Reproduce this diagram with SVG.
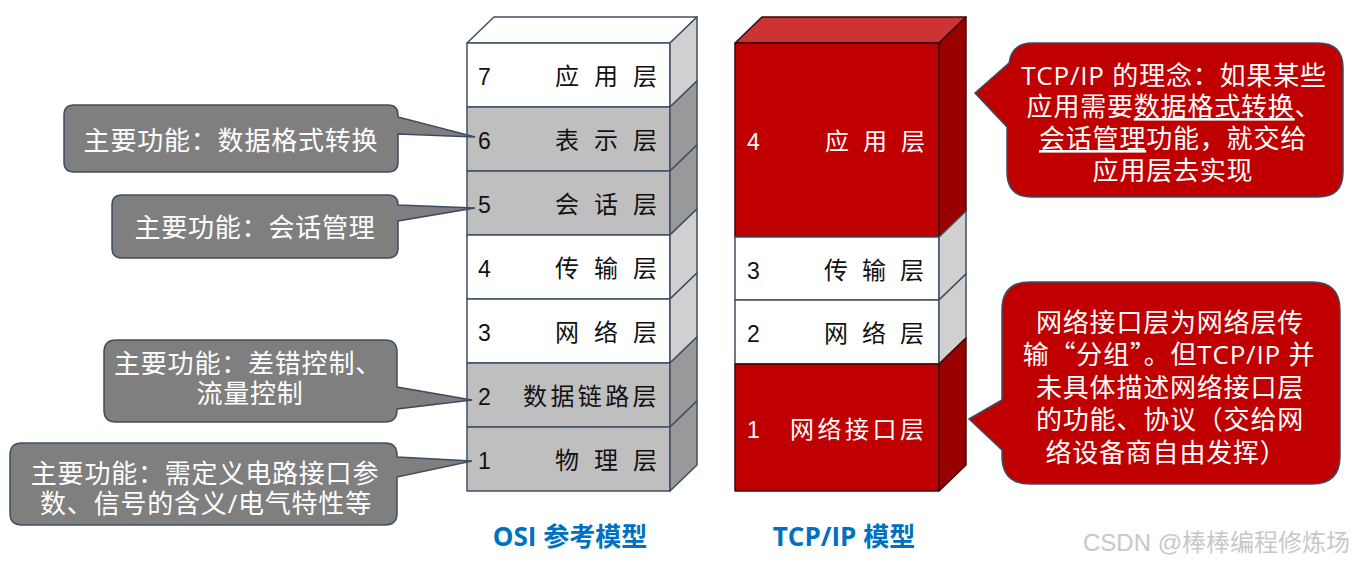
<svg xmlns="http://www.w3.org/2000/svg" width="1357" height="566" viewBox="0 0 1357 566">
<style>
.osi{stroke:#3f4f63;stroke-width:1.5;stroke-linejoin:round}
.red{stroke:#3a0a0a;stroke-width:1.5;stroke-linejoin:round}
.fw{fill:#ffffff}.fg{fill:#bfbfbf}.sl{fill:#d0d0d0}.sd{fill:#999999}
.fr{fill:#c00000}.sr{fill:#990000}.tr{fill:#cc3333}
.num{font-family:"Liberation Sans","Open Sans",sans-serif;font-size:23px}
.lab{font-family:"Noto Sans CJK SC",sans-serif;font-size:24px}
.dk{fill:#111111}.wt{fill:#ffffff}
.cg{fill:#7f7f7f;stroke:#3b4d63;stroke-width:1.5}
.cr{fill:#c00000;stroke:#3b4d63;stroke-width:1.5}
.ct{font-family:"Open Sans","Noto Sans CJK SC",sans-serif;font-size:26px;fill:#ffffff;text-anchor:middle;letter-spacing:0.8px}
.fq{font-family:"Noto Sans CJK SC",sans-serif;font-feature-settings:"fwid"}
.title{font-family:"Open Sans","Noto Sans CJK SC",sans-serif;font-size:26px;font-weight:bold;fill:#0070c0;text-anchor:middle}
</style>
<g id="osi-stack">
  <polygon class="osi fw" points="467,43 494,17 697,17 670,43"/>
  <g id="osi-7"><rect class="osi fw" x="467" y="43" width="203" height="64"/><polygon class="osi sl" points="670,43 697,17 697,81 670,107"/>
    <text class="num dk" x="478" y="85">7</text><text class="lab dk" x="555" y="85" letter-spacing="15">应用层</text></g>
  <g id="osi-6"><rect class="osi fg" x="467" y="107" width="203" height="64"/><polygon class="osi sd" points="670,107 697,81 697,145 670,171"/>
    <text class="num dk" x="478" y="149">6</text><text class="lab dk" x="555" y="149" letter-spacing="15">表示层</text></g>
  <g id="osi-5"><rect class="osi fg" x="467" y="171" width="203" height="64"/><polygon class="osi sd" points="670,171 697,145 697,209 670,235"/>
    <text class="num dk" x="478" y="213">5</text><text class="lab dk" x="555" y="213" letter-spacing="15">会话层</text></g>
  <g id="osi-4"><rect class="osi fw" x="467" y="235" width="203" height="64"/><polygon class="osi sl" points="670,235 697,209 697,273 670,299"/>
    <text class="num dk" x="478" y="277">4</text><text class="lab dk" x="555" y="277" letter-spacing="15">传输层</text></g>
  <g id="osi-3"><rect class="osi fw" x="467" y="299" width="203" height="64"/><polygon class="osi sl" points="670,299 697,273 697,337 670,363"/>
    <text class="num dk" x="478" y="341">3</text><text class="lab dk" x="555" y="341" letter-spacing="15">网络层</text></g>
  <g id="osi-2"><rect class="osi fg" x="467" y="363" width="203" height="64"/><polygon class="osi sd" points="670,363 697,337 697,401 670,427"/>
    <text class="num dk" x="478" y="405">2</text><text class="lab dk" x="523" y="405" letter-spacing="3.4">数据链路层</text></g>
  <g id="osi-1"><rect class="osi fg" x="467" y="427" width="203" height="64"/><polygon class="osi sd" points="670,427 697,401 697,465 670,491"/>
    <text class="num dk" x="478" y="469">1</text><text class="lab dk" x="555" y="469" letter-spacing="15">物理层</text></g>
</g>
<g id="tcp-stack">
  <polygon class="red tr" points="735,43 762,17 966,17 939,43"/>
  <g id="tcp-4"><rect class="red fr" x="735" y="43" width="204" height="194"/><polygon class="red sr" points="939,43 966,17 966,211 939,237"/>
    <text class="num wt" x="747" y="150">4</text><text class="lab wt" x="825" y="150" letter-spacing="14">应用层</text></g>
  <g id="tcp-3"><rect class="osi fw" x="735" y="237" width="204" height="63"/><polygon class="osi sl" points="939,237 966,211 966,274 939,300"/>
    <text class="num dk" x="747" y="279">3</text><text class="lab dk" x="824" y="279" letter-spacing="14">传输层</text></g>
  <g id="tcp-2"><rect class="osi fw" x="735" y="300" width="204" height="64"/><polygon class="osi sl" points="939,300 966,274 966,338 939,364"/>
    <text class="num dk" x="747" y="342">2</text><text class="lab dk" x="824" y="342" letter-spacing="14">网络层</text></g>
  <g id="tcp-1"><rect class="red fr" x="735" y="364" width="204" height="127"/><polygon class="red sr" points="939,364 966,338 966,465 939,491"/>
    <text class="num wt" x="747" y="438">1</text><text class="lab wt" x="790" y="438" letter-spacing="3.5">网络接口层</text></g>
</g>
<g id="callout-6">
  <path class="cg" d="M74,105 H388 Q398,105 398,115 V117 L475,137 L398,134 V162 Q398,172 388,172 H74 Q64,172 64,162 V115 Q64,105 74,105 Z"/>
  <text class="ct" x="231" y="150">主要功能：数据格式转换</text>
</g>
<g id="callout-5">
  <path class="cg" d="M122,195 H388 Q398,195 398,205 L475,208 L398,221 V248 Q398,258 388,258 H122 Q112,258 112,248 V205 Q112,195 122,195 Z"/>
  <text class="ct" x="255" y="237">主要功能：会话管理</text>
</g>
<g id="callout-2">
  <path class="cg" d="M116,340 H385 Q397,340 397,352 V387 L472,400 L397,409 V410 Q397,422 385,422 H116 Q104,422 104,410 V352 Q104,340 116,340 Z"/>
  <text class="ct" x="248" y="373">主要功能：差错控制、</text>
  <text class="ct" x="250" y="403">流量控制</text>
</g>
<g id="callout-1">
  <path class="cg" d="M22,443 H385 Q397,443 397,455 V457 L472,461 L397,477 V513 Q397,525 385,525 H22 Q10,525 10,513 V455 Q10,443 22,443 Z"/>
  <text class="ct" x="205" y="483">主要功能：需定义电路接口参</text>
  <text class="ct" x="206" y="513">数、信号的含义/电气特性等</text>
</g>
<g id="callout-tcp-app">
  <path class="cr" d="M1032,43 H1318 Q1343,43 1343,68 V172 Q1343,197 1318,197 H1032 Q1007,197 1007,172 V127 L975,93 L1009,63 Q1012,43 1032,43 Z"/>
  <text class="ct" x="1174" y="85">TCP/IP 的理念：如果某些</text>
  <text class="ct" x="1174" y="116">应用需要<tspan text-decoration="underline">数据格式转换</tspan>、</text>
  <text class="ct" x="1173" y="148"><tspan text-decoration="underline">会话管理</tspan>功能，就交给</text>
  <text class="ct" x="1173" y="180">应用层去实现</text>
</g>
<g id="callout-tcp-net">
  <path class="cr" d="M1030,282 H1312 Q1340,282 1340,310 V456 Q1340,484 1312,484 H1030 Q1002,484 1002,456 V450 L969,419 L1002,400 V310 Q1002,282 1030,282 Z"/>
  <text class="ct" x="1170" y="332">网络接口层为网络层传</text>
  <text class="ct" x="1169" y="364">输<tspan class="fq">“</tspan>分组<tspan class="fq">”</tspan>。但TCP/IP 并</text>
  <text class="ct" x="1170" y="397">未具体描述网络接口层</text>
  <text class="ct" x="1170" y="429">的功能、协议（交给网</text>
  <text class="ct" x="1166" y="462">络设备商自由发挥）</text>
</g>
<g id="connectors"></g>
<text class="title" x="570" y="546">OSI 参考模型</text>
<text class="title" x="844" y="546">TCP/IP 模型</text>
<text x="1350" y="551" text-anchor="end" font-family="Liberation Sans,Noto Sans CJK SC,sans-serif" font-size="24" fill="#c8c8c8">CSDN @棒棒编程修炼场</text>
</svg>
